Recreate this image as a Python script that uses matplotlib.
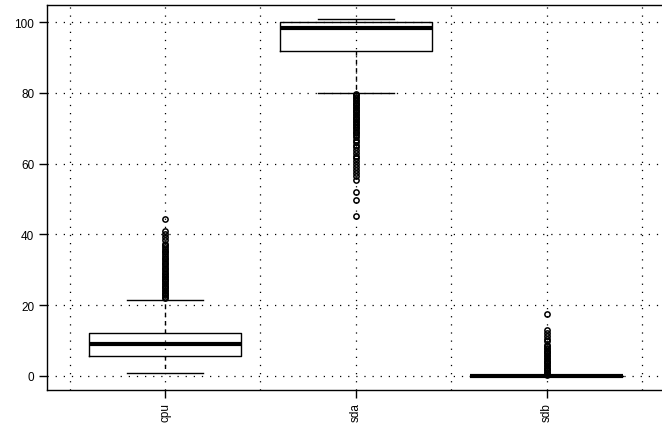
import matplotlib
matplotlib.use('Agg')
import matplotlib.pyplot as plt

plt.rcParams['font.family'] = ['Liberation Sans', 'DejaVu Sans']

# --- datos ---
labels = ['cpu', 'sda', 'sdb']
q1 = [5.5, 92.0, 0.0]
med = [9.0, 98.5, 0.0]
q3 = [12.0, 100.0, 0.0]
whislo = [0.7, 80.0, 0.0]
whishi = [21.5, 100.8, 0.0]

cpu_out = [21.9, 22.3, 22.7, 23.1, 23.5, 23.9, 24.3, 24.7, 25.1, 25.5, 25.9, 26.3,
           26.7, 27.1, 27.5, 27.9, 28.3, 28.8, 29.2, 29.7, 30.1, 30.6, 31.0, 31.5,
           32.0, 32.5, 33.0, 33.4, 33.9, 34.4, 34.9, 35.4, 35.9, 36.4, 36.9, 37.4,
           38.5, 39.3, 40.0, 40.9, 44.3]
sda_out = [79.7, 79.3, 78.9, 78.5, 78.1, 77.7, 77.3, 76.9, 76.5, 76.1, 75.7, 75.3,
           74.9, 74.5, 74.1, 73.7, 73.3, 72.9, 72.5, 72.1, 71.7, 71.3, 70.9, 70.5,
           70.1, 69.6, 69.1, 68.6, 68.1, 67.5, 66.8, 66.1, 65.4, 64.6, 63.9, 63.1,
           62.3, 61.6, 60.8, 59.9, 59.1, 58.3, 57.5, 56.6, 55.5, 51.9, 49.8, 45.3]
sdb_out = [0.3, 0.7, 1.1, 1.5, 1.9, 2.3, 2.7, 3.1, 3.5, 3.9, 4.3, 4.7, 5.1, 5.5,
           5.9, 6.3, 6.7, 7.1, 7.5, 7.9, 8.3, 8.8, 9.7, 10.3, 11.1, 12.2, 13.0, 17.4]
fliers = [cpu_out, sda_out, sdb_out]

stats = []
for i in range(len(labels)):
    stats.append(dict(label=labels[i], q1=q1[i], med=med[i], q3=q3[i],
                      whislo=whislo[i], whishi=whishi[i], fliers=fliers[i]))

# --- gráfico ---
fig = plt.figure(figsize=(6.62, 4.31), dpi=100)
ax = fig.add_axes([46.7 / 662, 1 - 391 / 431, (665 - 46.7) / 662, (391 - 5.5) / 431])

grid_style = dict(color='black', lw=0.9, linestyle=(0, (1, 5.5)), zorder=0)
for gx in [0.5, 1.0, 1.5, 2.0, 2.5, 3.0, 3.5]:
    ax.axvline(gx, **grid_style)
for gy in [0, 20, 40, 60, 80, 100]:
    ax.axhline(gy, **grid_style)

ax.bxp(stats, positions=[1, 2, 3], widths=0.8, showfliers=True,
       boxprops=dict(color='black', lw=1.0),
       medianprops=dict(color='black', lw=3.0, solid_capstyle='butt'),
       whiskerprops=dict(color='black', lw=1.0, linestyle=(0, (3, 3))),
       capprops=dict(color='black', lw=1.0),
       flierprops=dict(marker='o', markerfacecolor='none', markeredgecolor='black',
                       markersize=3.8, markeredgewidth=1.1),
       capwidths=0.4, zorder=2)

ax.set_xlim(0.38, 3.62)
ax.set_ylim(-4.04, 105.04)
ax.set_yticks([0, 20, 40, 60, 80, 100])
ax.set_xticks([1, 2, 3])
ax.set_xticklabels(labels, rotation=90)
ax.tick_params(axis='both', direction='out', length=6, width=1.0, labelsize=8.5,
               color='black', pad=3)
for s in ax.spines.values():
    s.set_linewidth(1.0)
ax.spines['right'].set_visible(False)

fig.savefig('out.png', dpi=100)
